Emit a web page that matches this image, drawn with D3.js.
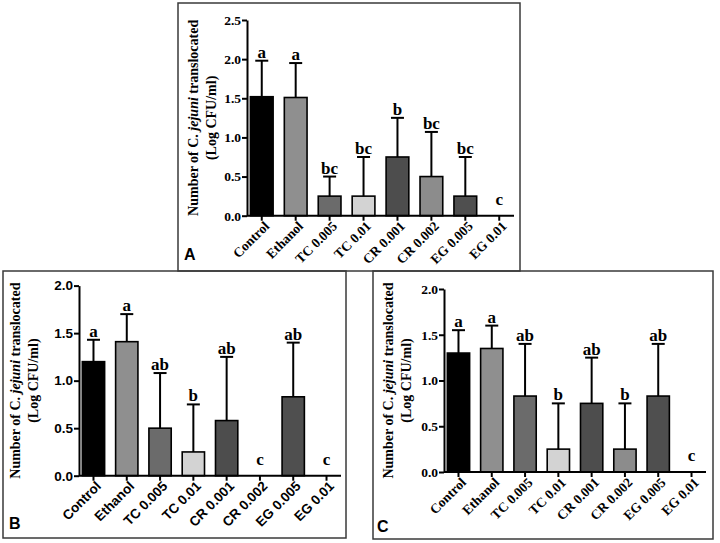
<!DOCTYPE html>
<html>
<head>
<meta charset="utf-8">
<script src="https://cdn.jsdelivr.net/npm/d3@7"></script>
<style>
  body { margin: 0; background: #fff; }
  svg { display: block; }
</style>
</head>
<body>
<svg id="fig" width="720" height="543"></svg>
<script>
// DATA
const categories = ["Control", "Ethanol", "TC 0.005", "TC 0.01", "CR 0.001", "CR 0.002", "EG 0.005", "EG 0.01"];

const meanA = [1.52, 1.51, 0.25, 0.25, 0.75, 0.50, 0.25, 0];
const sdA   = [0.46, 0.44, 0.25, 0.50, 0.50, 0.57, 0.50, 0];
const sigA  = ["a", "a", "bc", "bc", "b", "bc", "bc", "c"];

const meanB = [1.20, 1.41, 0.50, 0.25, 0.58, 0, 0.83, 0];
const sdB   = [0.23, 0.29, 0.58, 0.50, 0.67, 0, 0.57, 0];
const sigB  = ["a", "a", "ab", "b", "ab", "c", "ab", "c"];

const meanC = [1.30, 1.35, 0.83, 0.25, 0.75, 0.25, 0.83, 0];
const sdC   = [0.25, 0.25, 0.57, 0.50, 0.50, 0.50, 0.57, 0];
const sigC  = ["a", "a", "ab", "b", "ab", "b", "ab", "c"];

const yTicksA = [0, 0.5, 1.0, 1.5, 2.0, 2.5];
const yTicksBC = [0, 0.5, 1.0, 1.5, 2.0];

// STYLE
const barColors = ["#000000", "#8f8f8f", "#6b6b6b", "#d3d3d3", "#4d4d4d", "#8c8c8c", "#4f4f4f", "#4f4f4f"];
const serif = "'Liberation Serif', 'Times New Roman', serif";
const sans = "'Liberation Sans', Arial, sans-serif";

const color = d3.scaleOrdinal(categories, barColors);

const svg = d3.select("svg#fig");

function drawPanel(p) {
    const rows = categories.map((c, i) => ({ name: c, mean: p.mean[i], sd: p.sd[i], sig: p.sig[i] }));
    const g = svg.append("g");

    // FRAME
    g.append("rect")
        .attr("x", p.box[0]).attr("y", p.box[1])
        .attr("width", p.box[2]).attr("height", p.box[3])
        .attr("fill", "none").attr("stroke", "#3a3a3a").attr("stroke-width", 1.5);

    // SCALES
    const xScale = d3.scaleBand()
        .domain(categories)
        .range([p.left, p.right])
        .paddingInner(0.33)
        .paddingOuter(0.1);

    const yScale = d3.scaleLinear()
        .domain([0, d3.max(p.ticks)])
        .range([p.bottom, p.top]);

    // BARS
    g.append("g").selectAll("rect")
        .data(rows.filter(d => d.mean > 0))
        .join("rect")
        .attr("x", d => xScale(d.name))
        .attr("y", d => yScale(d.mean))
        .attr("width", xScale.bandwidth())
        .attr("height", d => yScale(0) - yScale(d.mean))
        .attr("fill", d => color(d.name))
        .attr("stroke", "#000").attr("stroke-width", 1.6);

    // ERROR BARS (upper only)
    const eb = g.append("g").attr("stroke", "#000").attr("stroke-width", 2);
    const withErr = rows.filter(d => d.sd > 0);
    const cx = d => xScale(d.name) + xScale.bandwidth() / 2;
    eb.selectAll("line.v").data(withErr).join("line").attr("class", "v")
        .attr("x1", cx).attr("x2", cx)
        .attr("y1", d => yScale(d.mean)).attr("y2", d => yScale(d.mean + d.sd));
    eb.selectAll("line.h").data(withErr).join("line").attr("class", "h")
        .attr("x1", d => cx(d) - 6.5).attr("x2", d => cx(d) + 6.5)
        .attr("y1", d => yScale(d.mean + d.sd)).attr("y2", d => yScale(d.mean + d.sd));

    // SIGNIFICANCE LETTERS
    g.append("g").selectAll("text")
        .data(rows)
        .join("text")
        .attr("x", cx)
        .attr("y", d => d.mean + d.sd > 0 ? yScale(d.mean + d.sd) - 3 : yScale(0) - 11)
        .attr("text-anchor", "middle")
        .attr("font-family", serif).attr("font-weight", "bold").attr("font-size", 17)
        .text(d => d.sig);

    // AXIS
    const yAxis = d3.axisLeft(yScale).tickValues(p.ticks).tickFormat(d3.format(".1f"))
        .tickSize(5).tickSizeOuter(0).tickPadding(1);
    const xAxis = d3.axisBottom(xScale).tickSize(5).tickSizeOuter(0).tickPadding(2);

    const ya = g.append("g").attr("transform", `translate(${p.left},0)`).call(yAxis);
    const xa = g.append("g").attr("transform", `translate(0,${p.bottom})`).call(xAxis);

    [ya, xa].forEach(a => {
        a.selectAll("path, line").attr("stroke", "#000").attr("stroke-width", 2);
        a.selectAll("text").attr("fill", "#000")
            .attr("font-family", p.tickFont).attr("font-weight", "bold").attr("font-size", 13.5);
    });
    xa.select(".domain").attr("d", `M${p.left},0H${p.right}`);

    xa.selectAll(".tick text")
        .attr("text-anchor", "end")
        .attr("dy", "0.35em")
        .attr("transform", "translate(5,8) rotate(-45)")
        .attr("x", 0).attr("y", 0);

    // AXIS TITLE
    const title = g.append("text")
        .attr("transform", `translate(${p.titleX},${(p.top + p.bottom) / 2}) rotate(-90)`)
        .attr("text-anchor", "middle")
        .attr("font-family", serif).attr("font-weight", "bold").attr("font-size", 14);
    const l1 = title.append("tspan").attr("x", 0).attr("dy", 0);
    l1.append("tspan").text("Number of C. ");
    l1.append("tspan").attr("font-style", "italic").text("jejuni");
    l1.append("tspan").text(" translocated");
    title.append("tspan").attr("x", 0).attr("dy", 18).text("(Log CFU/ml)");

    // PANEL LETTER
    g.append("text")
        .attr("x", p.letterPos[0]).attr("y", p.letterPos[1])
        .attr("font-family", sans).attr("font-weight", "bold").attr("font-size", 16)
        .text(p.letter);
}

drawPanel({
    mean: meanA, sd: sdA, sig: sigA, ticks: yTicksA, letter: "A",
    box: [178, 3, 342, 268], left: 247, right: 514, top: 20, bottom: 215.7,
    titleX: 198, letterPos: [184, 260], tickFont: serif
});

drawPanel({
    mean: meanB, sd: sdB, sig: sigB, ticks: yTicksBC, letter: "B",
    box: [3, 271, 343, 267], left: 79, right: 341, top: 285.6, bottom: 475.7,
    titleX: 20, letterPos: [9, 529], tickFont: sans
});

drawPanel({
    mean: meanC, sd: sdC, sig: sigC, ticks: yTicksBC, letter: "C",
    box: [373, 271, 340, 268], left: 444, right: 706, top: 289, bottom: 472,
    titleX: 393, letterPos: [377, 532], tickFont: serif
});
</script>
</body>
</html>
